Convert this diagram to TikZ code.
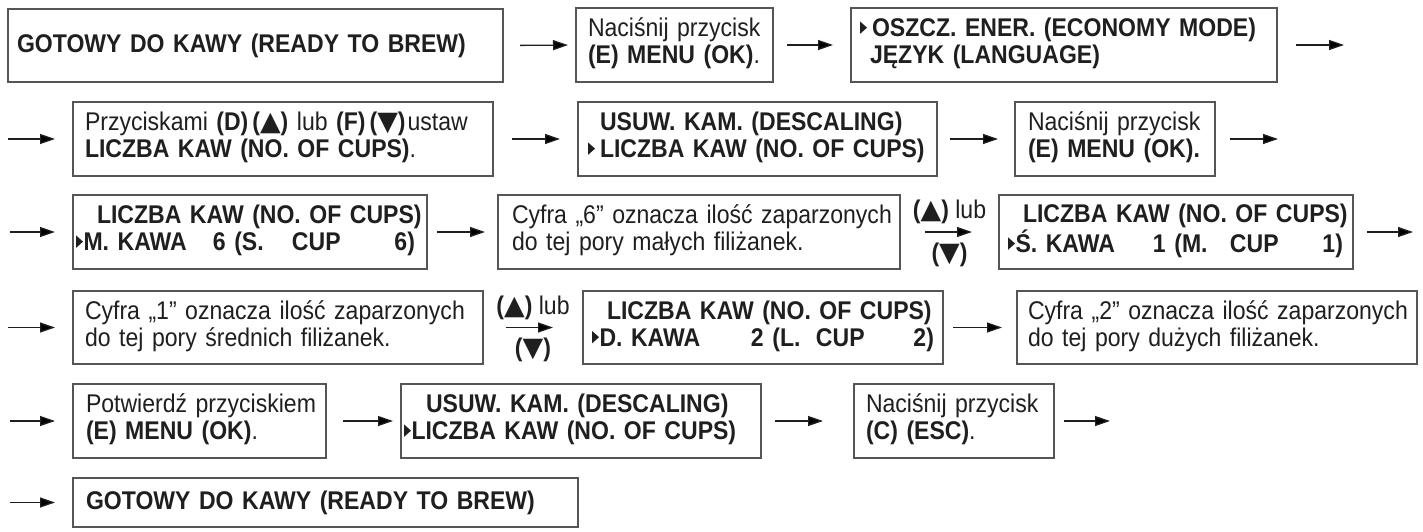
\documentclass[tikz,border=0pt]{standalone}
\usepackage{fontspec}
\setmainfont[FakeStretch=0.9]{Liberation Sans}
\newfontfamily\symf[Scale=1.05]{DejaVu Sans}
\usetikzlibrary{arrows.meta}
\definecolor{boxgray}{HTML}{555555}
\definecolor{ink}{HTML}{1F1F1F}
\newcommand\fsz{\fontsize{25.6pt}{27pt}\selectfont}
\newcommand\tri{\tikz[baseline=0pt]\fill[ink] (0pt,3pt)--(0pt,15.5pt)--(7pt,9.25pt)--cycle;}
\newcommand\up{{\symf ▲}}
\newcommand\dn{{\symf ▼}}
\newcommand\tl[2]{\begin{tabular}{@{}l@{}}#1\\#2\end{tabular}}
\begin{document}
\begin{tikzpicture}[x=1pt,y=-1pt,
  every node/.style={font=\fsz, text=ink},
  box/.style={draw=boxgray, line width=1.4pt, rectangle, anchor=north west, align=left, inner ysep=0pt, outer sep=0pt},
  arr/.style={draw=ink, line width=1.3pt, -{Triangle[length=15pt,width=10pt]}},
  lbl/.style={inner sep=0pt}]
\path[use as bounding box, fill=white] (0,0) rectangle (1423,532);

% Row 1
\node[box, minimum height=73pt, inner xsep=9pt, text width=477pt] (A) at (8,9) {\textbf{GOTOWY DO KAWY (READY TO BREW)}};
\node[box, minimum height=74pt, inner xsep=12pt, text width=173pt] (B) at (576,8) {\tl{Naciśnij przycisk}{\textbf{(E) MENU (OK)}.}};
\node[box, minimum height=74pt, inner xsep=9pt, text width=408pt] (C) at (851,8) {\tl{\textbf{\tri\kern5pt OSZCZ. ENER. (ECONOMY MODE)}}{\hspace*{10pt}\textbf{JĘZYK (LANGUAGE)}}};

% Row 2
\node[box, minimum height=74pt, inner xsep=12pt, text width=396pt] (D) at (73,102) {\tl{Przyciskami \textbf{(D)}\kern4pt\textbf{(\up)} lub \textbf{(F)}\kern4pt\textbf{(\dn)}\kern2pt ustaw}{\textbf{LICZBA KAW (NO. OF CUPS)}.}};
\node[box, minimum height=74pt, inner xsep=10pt, text width=339pt] (E) at (578,102) {\tl{\hspace*{12pt}\textbf{USUW. KAM. (DESCALING)}}{\textbf{\tri\kern5pt LICZBA KAW (NO. OF CUPS)}}};
\node[box, minimum height=74pt, inner xsep=13pt, text width=174pt] (F) at (1015,102) {\tl{Naciśnij przycisk}{\textbf{(E) MENU (OK).}}};

% Row 3
\node[box, minimum height=74pt, inner xsep=3pt, text width=348pt] (G) at (73,195) {\tl{\hspace*{21pt}\textbf{LICZBA KAW (NO. OF CUPS)}}{\textbf{\makebox[339pt][l]{\makebox[137pt][l]{\tri\kern0.5pt M. KAWA}\makebox[79pt][l]{6 (S.}CUP\hfill 6)}}}};
\node[box, minimum height=74pt, inner xsep=14pt, text width=374pt] (H) at (498,195) {\tl{Cyfra „6” oznacza ilość zaparzonych}{do tej pory małych filiżanek.}};
\node[box, minimum height=74pt, inner xsep=9pt, text width=336pt] (I) at (999,195) {\tl{\hspace*{15pt}\textbf{LICZBA KAW (NO. OF CUPS)}}{\textbf{\makebox[335pt][l]{\makebox[145pt][l]{\tri\kern0.5pt Ś. KAWA}\makebox[77pt][l]{1 (M.}CUP\hfill 1)}}}};

% Row 4
\node[box, minimum height=73pt, inner xsep=12pt, text width=386pt] (J) at (73,291) {\tl{Cyfra „1” oznacza ilość zaparzonych}{do tej pory średnich filiżanek.}};
\node[box, minimum height=73pt, inner xsep=9pt, text width=342pt] (K) at (583,291) {\tl{\hspace*{15pt}\textbf{LICZBA KAW (NO. OF CUPS)}}{\textbf{\makebox[342pt][l]{\makebox[159pt][l]{\tri\kern0.5pt D. KAWA}\makebox[65pt][l]{2 (L.}CUP\hfill 2)}}}};
\node[box, minimum height=73pt, inner xsep=11pt, text width=378pt] (L) at (1017,291) {\tl{Cyfra „2” oznacza ilość zaparzonych}{do tej pory dużych filiżanek.}};

% Row 5
\node[box, minimum height=74pt, inner xsep=13pt, text width=227pt] (M) at (73,384) {\tl{Potwierdź przyciskiem}{\textbf{(E) MENU (OK)}.}};
\node[box, minimum height=74pt, inner xsep=3pt, text width=354pt] (N) at (401,384) {\tl{\hspace*{22pt}\textbf{USUW. KAM. (DESCALING)}}{\textbf{\tri\kern0.5pt LICZBA KAW (NO. OF CUPS)}}};
\node[box, minimum height=74pt, inner xsep=12pt, text width=176pt] (O) at (854,384) {\tl{Naciśnij przycisk}{\textbf{(C) (ESC)}.}};

% Row 6
\node[box, minimum height=49pt, inner xsep=13pt, text width=479pt] (P) at (73,478) {\textbf{GOTOWY DO KAWY (READY TO BREW)}};

% free ends
\coordinate (e1) at (1344,45);
\coordinate (s2) at (8,139);
\coordinate (e2) at (1278,139);
\coordinate (s3) at (10,232);
\coordinate (e3) at (1413,232);
\coordinate (s4) at (8,327.5);
\coordinate (s5) at (10,421);
\coordinate (e5) at (1110,421);
\coordinate (s6) at (10,502.5);

% connectors
\draw[arr, shorten <=17pt, shorten >=8pt] (A.east) -- (B.west);
\draw[arr, shorten <=14pt, shorten >=18pt] (B.east) -- (C.west);
\draw[arr, shorten <=19pt] (C.east) -- (e1);

\draw[arr, shorten >=18pt] (s2) -- (D.west);
\draw[arr, shorten <=19pt, shorten >=18pt] (D.east) -- (E.west);
\draw[arr, shorten <=13pt, shorten >=17pt] (E.east) -- (F.west);
\draw[arr, shorten <=15pt] (F.east) -- (e2);

\draw[arr, shorten >=18pt] (s3) -- (G.west);
\draw[arr, shorten <=10pt, shorten >=13pt] (G.east) -- (H.west);
\draw[arr, shorten <=25pt, shorten >=27pt] (H.east) -- node[lbl, yshift=20pt] (la1) {\textbf{(\up)} lub} node[lbl, yshift=-22.5pt] (lb1) {\textbf{(\dn)}} (I.west);
\draw[arr, shorten <=14pt] (I.east) -- (e3);

\draw[arr, shorten >=18pt] (s4) -- (J.west);
\draw[arr, shorten <=23pt, shorten >=30pt] (J.east) -- node[lbl, yshift=20pt] (la2) {\textbf{(\up)} lub} node[lbl, yshift=-22.5pt] (lb2) {\textbf{(\dn)}} (K.west);
\draw[arr, shorten <=10pt, shorten >=15pt] (K.east) -- (L.west);

\draw[arr, shorten >=18pt] (s5) -- (M.west);
\draw[arr, shorten <=17pt, shorten >=8pt] (M.east) -- (N.west);
\draw[arr, shorten <=14pt, shorten >=31pt] (N.east) -- (O.west);
\draw[arr, shorten <=10pt] (O.east) -- (e5);

\draw[arr, shorten >=18pt] (s6) -- (P.west);
\end{tikzpicture}
\end{document}
